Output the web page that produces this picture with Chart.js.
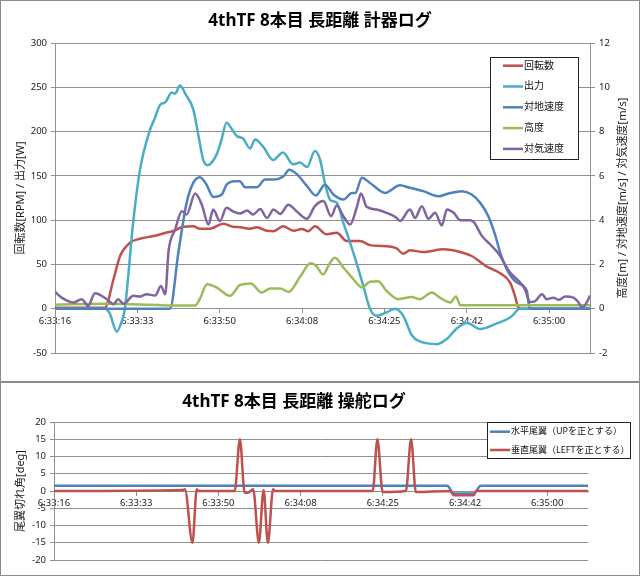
<!DOCTYPE html>
<html>
<head>
<meta charset="utf-8">
<script src="https://cdn.jsdelivr.net/npm/chart.js@4.4.1/dist/chart.umd.min.js"></script>
<style>
  body { margin: 0; background: #fff; }
  canvas { display: block; }
</style>
</head>
<body>
<canvas id="meters" width="640" height="382"></canvas>
<canvas id="rudder" width="640" height="194"></canvas>
<script>
// time axis: seconds since 6:33:16, labels every ~17.3 s as in the log
const tickSec = [0, 17.33, 34.67, 52, 69.33, 86.67, 104];
const tickLabels = ['6:33:16', '6:33:33', '6:33:50', '6:34:08', '6:34:25', '6:34:42', '6:35:00'];

// [sec, value] samples
const rpmLog = [[0,1],[10.5,1],[12.3,33],[13.7,59.5],[15.8,74.5],[17.9,79],[20.7,82],[23.5,86],[24.9,87.7],[27,92.5],[29.1,93],[30.5,90.3],[32.6,90.3],[35.4,96],[37.5,92.5],[39,92],[41,90.3],[42.5,92],[44.6,88],[46,87.6],[48,93],[50.2,88],[52,90],[53.3,87.6],[54.7,93],[57.2,84],[59.3,85.8],[61.4,76.4],[64.2,76.4],[66.3,71.8],[69.1,70.7],[71.9,68],[73.3,62],[74.7,66],[77.5,64],[81.8,67],[85.3,64],[87.7,59.5],[90.9,47.5],[93.7,40],[95.8,29.5],[96.8,14.4],[97.5,2],[98.2,0],[112.6,0]];
const powerLog = [[0,0],[10.5,0],[11.5,-5],[13,-26],[14,-15],[14.7,0],[16.5,100],[17.9,157],[20,202],[21,215],[22.1,230],[23.2,233],[24.6,244],[25.3,243],[26.3,252],[27.5,242],[29.1,225],[30.2,195],[31.2,168],[32.1,162],[34,174],[35,190],[36.1,210],[37.2,203],[38.25,195],[39.6,192],[41.05,181],[42.1,191],[43.8,183],[45.9,168],[48,176.5],[50.1,163],[51.6,165],[53.05,160],[54.7,178],[55.8,168],[56.8,142],[57.9,123],[59.3,119.6],[60.7,97],[62.8,63],[64.9,25.7],[66.3,0],[67.7,-8],[69.8,-4],[71.6,0],[73.3,-8],[75.1,-30],[76.8,-37],[80.4,-40],[82.5,-34],[84.6,-22],[86.7,-16],[89.5,-23],[93,-16.5],[95.8,-10],[97.9,0],[112.6,0]];
const groundLog = [[0,0],[24.2,0],[25.96,2.53],[27.7,4.78],[29.1,5.68],[30.5,5.94],[31.9,5.6],[33.3,5.05],[35.1,5.16],[36.1,5.6],[37.9,5.76],[38.9,5.76],[40,5.49],[42.5,5.49],[44.2,5.83],[46,5.83],[48.1,5.98],[49.3,6.28],[50.9,6.08],[53,5.55],[54.9,5.11],[56.8,5.6],[58.6,5.16],[60.7,4.93],[62.5,5.23],[63.2,5.23],[64.6,5.91],[66.3,5.68],[69.5,5.23],[72.6,5.58],[74.7,5.46],[77.5,5.31],[80.7,5.08],[82.8,5.2],[85.6,5.31],[87.7,5.16],[89.5,4.78],[91.2,4.18],[92.6,3.36],[93.7,2.53],[95.1,1.78],[97.2,1.18],[99.3,0.8],[99.9,0],[112.6,0]];
const altLog = [[0,0.18],[10,0.22],[20,0.18],[24,0.15],[29.5,0.15],[30.5,0.45],[32,1.1],[34,0.96],[36.8,0.58],[38.9,1.06],[41.2,1.14],[43.5,0.73],[45.3,0.91],[47.4,0.91],[49.2,0.76],[51.6,1.45],[53.8,2.05],[55,1.93],[56.4,1.55],[57.9,2.08],[58.9,2.3],[60.7,1.86],[62.8,1.33],[64.6,0.96],[66.3,1.22],[68,1.24],[69.8,0.8],[72.3,0.43],[75.1,0.53],[76.8,0.43],[79.3,0.73],[81,0.5],[83.2,0.28],[84.4,0.55],[85.3,0.16],[112.6,0.16]];
const airLog = [[0,0.76],[1.4,0.5],[3.9,0.28],[5.6,0.43],[7,0.13],[8.4,0.7],[10.9,0.43],[12.3,0.2],[13.3,0.43],[14.4,0.22],[16.5,0.58],[17.9,0.55],[19.3,0.65],[21.1,0.6],[22.3,1.03],[23.2,0.65],[23.9,2.6],[25.3,3.58],[26.7,4.4],[27.7,4.26],[29.5,5.2],[30.9,4.7],[32.3,3.8],[33.3,4.48],[34.7,3.96],[36.1,4.56],[37.5,4.39],[38.9,4.3],[40.4,4.43],[41.7,4.26],[43.2,4.5],[44.6,4.1],[46,4.48],[47.4,4.28],[49.1,4.7],[50.9,4.39],[53,4.06],[54.7,4.63],[56.5,4.86],[58.1,4.18],[59.3,4.66],[60.7,4.18],[62.1,3.8],[63.5,4.56],[64.4,5.2],[65.6,4.6],[67.7,4.48],[69.8,4.33],[71.9,4.1],[72.6,3.96],[74.7,4.48],[75.8,4.1],[77.2,4.63],[78.6,4.06],[80,4.33],[81.4,3.76],[82.5,4.48],[83.9,4.33],[85.3,4],[87.4,4],[88.2,3.9],[89.8,3.3],[91.6,2.9],[93.3,2.5],[95.8,1.63],[97.9,1.18],[98.9,0.88],[100,0.3],[101.1,0.35],[102.5,0.65],[103.5,0.43],[104.9,0.5],[106,0.4],[107.4,0.55],[109.1,0.5],[110.2,0.28],[110.9,0.05],[111.9,0.28],[112.6,0.6]];

const elevatorLog = [[0,1.5],[82.9,1.5],[84.3,-0.7],[88.5,-0.7],[90,1.5],[112.6,1.5]];
const rudderLog = [[0,0],[27.2,0.3],[27.6,0.5],[29.2,-15],[30.1,0.5],[30.5,0],[37.8,0],[38.1,0],[39.2,15],[40.2,-0.5],[40.9,-0.5],[42,0.5],[43.2,-15],[44.2,0.3],[45.1,-15],[46.2,0.5],[46.6,0],[67.2,0],[68.2,15],[69.3,-0.3],[74.2,0],[75.3,15],[76.3,-0.3],[83.5,0],[84.3,-1.2],[88.5,-1.2],[89,0],[112.6,0]];

const endSec = Math.max(...rpmLog.map(p => p[0]));
const gridColor = '#8f8f8f';
const fontFamily = "'Noto Sans', 'Noto Sans CJK JP', sans-serif";

Chart.defaults.font.family = fontFamily;
Chart.defaults.color = '#1a1a1a';
Chart.defaults.animation = false;
Chart.defaults.plugins.legend.display = false;
Chart.defaults.plugins.tooltip.enabled = false;
Chart.defaults.elements.point.radius = 0;
Chart.defaults.elements.line.borderWidth = 2.5;
Chart.defaults.elements.line.cubicInterpolationMode = 'monotone';

const toPoints = log => log.map(([x, y]) => ({x, y}));

// white background + grey chart border
const frame = {
  id: 'frame',
  beforeDraw(chart) {
    const {ctx, width, height} = chart;
    ctx.save();
    ctx.fillStyle = '#fff';
    ctx.fillRect(0, 0, width, height);
    ctx.strokeStyle = '#8c8c8c';
    ctx.lineWidth = 1;
    ctx.strokeRect(0.5, 0.5, width - 1, height - 1);
    ctx.restore();
  }
};

// boxed legend inside the plot, like excel
const boxLegend = {
  id: 'boxLegend',
  afterDatasetsDraw(chart, args, o) {
    const ctx = chart.ctx;
    ctx.save();
    ctx.fillStyle = '#fff';
    ctx.fillRect(o.x, o.y, o.w, o.h);
    ctx.strokeStyle = '#222';
    ctx.lineWidth = 1;
    ctx.strokeRect(o.x + 0.5, o.y + 0.5, o.w, o.h);
    ctx.font = o.fontSize + 'px ' + fontFamily;
    ctx.textBaseline = 'middle';
    chart.data.datasets.forEach((ds, i) => {
      const y = o.y + o.first + i * o.gap;
      ctx.strokeStyle = ds.borderColor;
      ctx.lineWidth = 2.5;
      ctx.beginPath();
      ctx.moveTo(o.x + o.lineX, y);
      ctx.lineTo(o.x + o.lineX + 20, y);
      ctx.stroke();
      ctx.fillStyle = '#111';
      ctx.fillText(ds.label, o.x + o.lineX + 21, y);
    });
    ctx.restore();
  }
};

// right axis title reads bottom-to-top in the original
const sideTitle = {
  id: 'sideTitle',
  afterDraw(chart, args, o) {
    if (!o.text) return;
    const {ctx, chartArea} = chart;
    ctx.save();
    ctx.translate(o.x, (chartArea.top + chartArea.bottom) / 2);
    ctx.rotate(-Math.PI / 2);
    ctx.font = '11px ' + fontFamily;
    ctx.fillStyle = '#1a1a1a';
    ctx.textAlign = 'center';
    ctx.textBaseline = 'middle';
    ctx.fillText(o.text, 0, 0);
    ctx.restore();
  }
};

function timeAxis() {
  return {
    type: 'linear',
    position: {y: 0},
    min: 0,
    max: endSec,
    grid: {drawOnChartArea: false, tickLength: 4, color: gridColor},
    border: {color: gridColor},
    afterBuildTicks: s => { s.ticks = tickSec.map(v => ({value: v})); },
    ticks: {autoSkip: false, maxRotation: 0, padding: 3, font: {size: 9.5},
      callback: (v, i) => tickLabels[i]}
  };
}

new Chart(document.getElementById('meters'), {
  type: 'line',
  data: {
    datasets: [
      {label: '回転数', data: toPoints(rpmLog), borderColor: '#C0504D', yAxisID: 'y', order: 5},
      {label: '出力', data: toPoints(powerLog), borderColor: '#4BACC6', yAxisID: 'y', order: 4},
      {label: '対地速度', data: toPoints(groundLog), borderColor: '#4F81BD', yAxisID: 'y2', order: 3},
      {label: '高度', data: toPoints(altLog), borderColor: '#9BBB59', yAxisID: 'y2', order: 2},
      {label: '対気速度', data: toPoints(airLog), borderColor: '#8064A2', yAxisID: 'y2', order: 1}
    ]
  },
  options: {
    responsive: false,
    layout: {padding: {left: 0, right: 0, top: 0, bottom: 29}},
    plugins: {
      title: {display: true, text: '4thTF 8本目 長距離 計器ログ', color: '#000',
        font: {size: 17, weight: 'bold'}, padding: {top: 11, bottom: 11.6}},
      boxLegend: {x: 490, y: 57, w: 88, h: 102, first: 8.7, gap: 20.8, lineX: 13, fontSize: 10},
      sideTitle: {x: 623, text: '高度[m] / 対地速度[m/s] / 対気速度[m/s]'}
    },
    scales: {
      x: timeAxis(),
      y: {
        position: 'left', min: -50, max: 300,
        ticks: {stepSize: 50, padding: 4, font: {size: 9.5}},
        grid: {color: gridColor, tickLength: 4},
        border: {color: gridColor},
        title: {display: true, text: '回転数[RPM] / 出力[W]', font: {size: 11}, padding: {top: 14, bottom: 0}},
        afterFit: s => { s.width = 55; }
      },
      y2: {
        position: 'right', min: -2, max: 12,
        ticks: {stepSize: 2, padding: 4, font: {size: 9.5}},
        grid: {drawOnChartArea: false, color: gridColor, tickLength: 5},
        border: {color: gridColor},
        afterFit: s => { s.width = 50; }
      }
    }
  },
  plugins: [frame, boxLegend, sideTitle]
});

new Chart(document.getElementById('rudder'), {
  type: 'line',
  data: {
    datasets: [
      {label: '水平尾翼（UPを正とする）', data: toPoints(elevatorLog), borderColor: '#4F81BD', order: 2},
      {label: '垂直尾翼（LEFTを正とする）', data: toPoints(rudderLog), borderColor: '#C0504D', order: 1}
    ]
  },
  options: {
    responsive: false,
    layout: {padding: {left: 0, right: 52, top: 0, bottom: 16}},
    plugins: {
      title: {display: true, text: '4thTF 8本目 長距離 操舵ログ', color: '#000',
        font: {size: 17, weight: 'bold'}, padding: {top: 10, bottom: 9.6}},
      boxLegend: {x: 487, y: 40, w: 143, h: 36, first: 9.7, gap: 18.3, lineX: 3, fontSize: 9}
    },
    scales: {
      x: timeAxis(),
      y: {
        min: -20, max: 20,
        ticks: {stepSize: 5, padding: 4, font: {size: 9.5}},
        grid: {color: gridColor, tickLength: 4},
        border: {color: gridColor},
        title: {display: true, text: '尾翼切れ角[deg]', font: {size: 11}, padding: {top: 14, bottom: 0}},
        afterFit: s => { s.width = 54; }
      }
    }
  },
  plugins: [frame, boxLegend]
});
</script>
</body>
</html>
